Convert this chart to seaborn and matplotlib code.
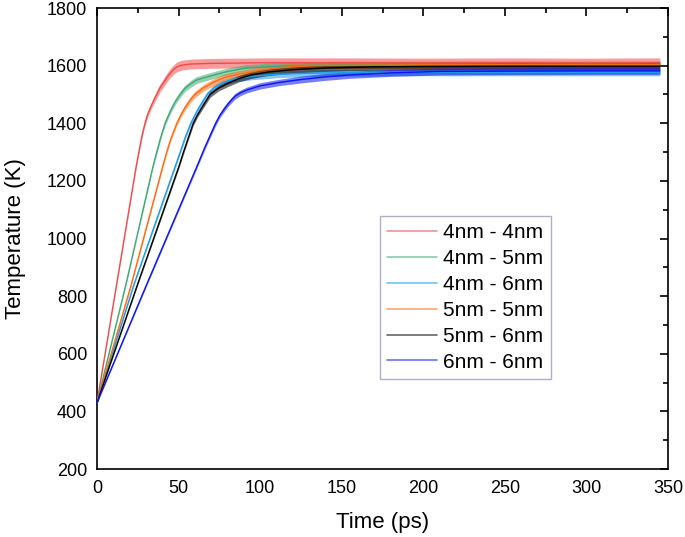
import numpy as np
import pandas as pd
import seaborn as sns
import matplotlib
matplotlib.use("Agg")
import matplotlib.pyplot as plt
from matplotlib.ticker import MultipleLocator

# ---- data ----
labels = ["4nm - 4nm", "4nm - 5nm", "4nm - 6nm", "5nm - 5nm", "5nm - 6nm", "6nm - 6nm"]
colors = ["#F24A4A", "#3DAA72", "#1C9BEA", "#FF6B0F", "#000000", "#0A14F0"]

t_44 = [0, 12, 24, 26, 27.5, 29.4, 31, 33, 35, 36.6, 38.5, 40.6, 43, 45, 47, 49, 52, 58, 70, 100, 150, 200, 250, 300, 345]
T_44 = [430, 840, 1250, 1310, 1355, 1400, 1430, 1458, 1482, 1500, 1522, 1539, 1560, 1575, 1587, 1596, 1602, 1606, 1608, 1610, 1610, 1609, 1610, 1609, 1610]
n_44 = [2, 4, 6, 7, 8, 9, 10, 11, 12, 13, 14, 15, 15, 16, 16, 17, 17, 17, 17, 17, 17, 17, 17, 17, 17]

t_45 = [0, 17.7, 34.5, 36.6, 39, 41.7, 44, 46, 48.5, 50.9, 54, 58, 61, 65, 72, 80, 91, 105, 120, 150, 200, 250, 300, 345]
T_45 = [430, 840, 1255, 1300, 1350, 1400, 1430, 1455, 1480, 1500, 1522, 1539, 1550, 1557, 1568, 1580, 1591, 1597, 1600, 1603, 1604, 1604, 1604, 1604]
n_45 = [2, 4, 6, 7, 8, 9, 9, 10, 10, 11, 11, 12, 12, 12, 12, 12, 12, 12, 12, 12, 12, 12, 12, 12]

t_46 = [0, 22.6, 47, 51, 54, 57.5, 62, 67.5, 72, 78, 85, 95, 110, 130, 160, 200, 250, 300, 345]
T_46 = [430, 840, 1235, 1300, 1350, 1400, 1450, 1500, 1525, 1543, 1555, 1563, 1570, 1574, 1576, 1577, 1577, 1577, 1577]
n_46 = [2, 4, 6, 7, 7, 8, 9, 10, 10, 11, 11, 12, 12, 12, 12, 12, 12, 12, 12]

t_55 = [0, 21, 40.5, 42.7, 45.5, 48.9, 51.5, 54, 57, 60, 65, 70.3, 75, 80, 90.7, 100, 109, 125, 140, 200, 250, 300, 345]
T_55 = [430, 840, 1255, 1300, 1350, 1400, 1430, 1455, 1480, 1500, 1522, 1539, 1552, 1562, 1574, 1584, 1591, 1598, 1601, 1603, 1603, 1603, 1603]
n_55 = [2, 4, 6, 7, 7, 8, 9, 10, 10, 11, 11, 12, 12, 12, 12, 12, 12, 12, 12, 12, 12, 12, 12]

t_56 = [0, 24.8, 50.5, 53, 56, 59, 61.5, 64, 69.3, 74.5, 80.4, 87, 94.8, 105, 120, 140, 170, 200, 250, 300, 345]
T_56 = [430, 840, 1255, 1300, 1350, 1400, 1428, 1452, 1500, 1522, 1539, 1555, 1568, 1578, 1586, 1592, 1596, 1597, 1598, 1598, 1598]
n_56 = [2, 4, 6, 7, 7, 8, 8, 9, 10, 10, 11, 11, 12, 12, 12, 12, 12, 12, 12, 12, 12]

t_66 = [0, 30.4, 61.6, 66, 72.3, 75, 78, 81, 84.6, 88, 92, 100, 112, 125, 140, 155, 180, 210, 250, 300, 345]
T_66 = [430, 840, 1255, 1315, 1395, 1425, 1450, 1472, 1494, 1506, 1516, 1530, 1542, 1552, 1561, 1568, 1575, 1580, 1581, 1582, 1582]
n_66 = [2, 4, 6, 7, 8, 8, 9, 9, 10, 10, 10, 11, 11, 12, 12, 12, 12, 12, 12, 12, 12]

series_t = [t_44, t_45, t_46, t_55, t_56, t_66]
series_T = [T_44, T_45, T_46, T_55, T_56, T_66]
series_n = [n_44, n_45, n_46, n_55, n_56, n_66]

x_ticks = [0, 50, 100, 150, 200, 250, 300, 350]
y_ticks = [200, 400, 600, 800, 1000, 1200, 1400, 1600, 1800]

# ---- plot ----
sns.set_theme(style="white")
plt.rcParams["font.family"] = ["Liberation Sans", "DejaVu Sans"]
plt.rcParams["text.color"] = "black"
plt.rcParams["axes.labelcolor"] = "black"

fig = plt.figure(figsize=(6.85, 5.37), dpi=100)
ax = fig.add_axes([0.1416, 0.1266, 0.8336, 0.8584])

frames = []
for lab, t, T in zip(labels, series_t, series_T):
    frames.append(pd.DataFrame({"Time": t, "Temp": T, "pair": lab}))
df = pd.concat(frames, ignore_index=True)

for lab, col, t, T, n in zip(labels, colors, series_t, series_T, series_n):
    t = np.asarray(t, float)
    T = np.asarray(T, float)
    n = np.asarray(n, float)
    ax.fill_between(t, T - n, T + n, color=col, alpha=0.55, linewidth=0, zorder=2)

sns.lineplot(data=df, x="Time", y="Temp", hue="pair", hue_order=labels,
             palette=dict(zip(labels, colors)), estimator=None, sort=False,
             linewidth=1.0, ax=ax, zorder=3)

ax.set_xlim(0, 350)
ax.set_ylim(200, 1800)
ax.set_xticks(x_ticks)
ax.set_yticks(y_ticks)
ax.xaxis.set_minor_locator(MultipleLocator(25))
ax.yaxis.set_minor_locator(MultipleLocator(100))
ax.tick_params(which="both", direction="in", top=True, right=True,
               labelsize=13, width=1.2, colors="black", labelcolor="black")
ax.tick_params(axis="y", pad=7)
ax.tick_params(axis="x", pad=8)
ax.tick_params(which="major", length=6)
ax.tick_params(which="minor", length=3.5)
for sp in ax.spines.values():
    sp.set_color("black")
    sp.set_linewidth(1.2)

ax.set_xlabel("Time (ps)", fontsize=16, labelpad=11)
ax.set_ylabel("Temperature (K)", fontsize=16, labelpad=15)

handles, hl = ax.get_legend_handles_labels()
for h in handles:
    h.set_alpha(0.6)
    h.set_linewidth(1.2)
leg = ax.legend(handles, hl, loc="center", bbox_to_anchor=(0.645, 0.372),
                fontsize=15, frameon=True, fancybox=False, handlelength=2.4,
                handletextpad=0.3, labelspacing=0.33, borderpad=0.35,
                borderaxespad=0)
leg.get_frame().set_edgecolor("#9A9ABD")
leg.get_frame().set_linewidth(1.0)

fig.savefig("out.png", dpi=100)
